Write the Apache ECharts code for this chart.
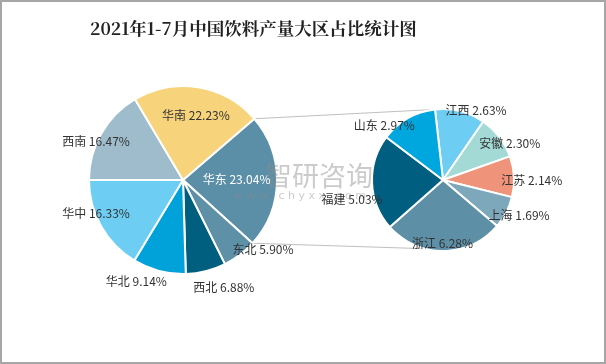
<!DOCTYPE html>
<html><head><meta charset="utf-8">
<script src="https://cdn.jsdelivr.net/npm/echarts@6/dist/echarts.min.js"></script>
<style>html,body{margin:0;padding:0;background:#fff}#c{width:606px;height:364px}</style>
</head><body><div id="c"></div>
<script>
// ---- data ----
const titleText = '2021年1-7月中国饮料产量大区占比统计图';
const regionNames = ['华东', '东北', '西北', '华北', '华中', '西南', '华南'];
const regionShares = [23.04, 5.90, 6.88, 9.14, 16.33, 16.47, 22.23];
const provinceNames = ['江西', '安徽', '江苏', '上海', '浙江', '福建', '山东'];
const provinceShares = [2.63, 2.30, 2.14, 1.69, 6.28, 5.03, 2.97];

// ---- styles ----
const regionColors = ['#5B8FA7', '#5E90A8', '#005E7F', '#00A2DA', '#6DCDF2', '#9EBCCB', '#F7D37C'];
const provinceColors = ['#6DCDF2', '#A4DAD6', '#EF937B', '#7DA8BC', '#5D8FA7', '#005E80', '#00A6DE'];
const regionLabelColors = ['#fff', '#333', '#333', '#333', '#333', '#333', '#333'];
// [angle offset from slice middle (deg), distance as fraction of radius]
const regionLabelPlace = [[-1.7, 0.57], [-11.8, 1.13], [-6.8, 1.22], [9.9, 1.19], [8.5, 0.99], [-6, 1.01], [2, 0.70]];
const provinceLabelPlace = [[11.5, 1.08], [9, 1.07], [3.3, 1.25], [-2.5, 1.18], [1, 0.9], [-10, 1.31], [-17.3, 1.13]];

const leftCenter = [183, 180], leftR = 94;
const rightCenter = [443, 180], rightR = 71;

const sum = a => a.reduce((s, v) => s + v, 0);
// left pie: boundary between 华中 and 西南 lies at the left (180°)
const leftStart = 180 + sum(regionShares.slice(0, 5)) / sum(regionShares) * 360 - 360;
const rightStart = 96.5;

function midAngles(values) {
  const t = sum(values); let acc = 0;
  return values.map(v => { const m = acc + v / 2; acc += v; return m / t * 360; });
}
function makeLayout(center, r, start, values, place) {
  const mids = midAngles(values);
  return function (p) {
    const i = p.dataIndex;
    const a = ((90 - start) + mids[i] + place[i][0]) * Math.PI / 180;
    const f = place[i][1];
    return { x: center[0] + f * r * Math.sin(a), y: center[1] - f * r * Math.cos(a), align: 'center', verticalAlign: 'middle' };
  };
}
function pt(center, r, compassDeg) {
  const a = compassDeg * Math.PI / 180;
  return [center[0] + r * Math.sin(a), center[1] - r * Math.cos(a)];
}

const fmt = p => p.name + ' ' + Number(p.value).toFixed(2) + '%';
const labelFont = '"Microsoft YaHei","Noto Sans CJK SC",sans-serif';

const e0 = 90 - leftStart;
const e1 = e0 + regionShares[0] / sum(regionShares) * 360;
const pA = pt(leftCenter, leftR, e0), pB = pt(leftCenter, leftR, e1);
const qA = pt(rightCenter, rightR, 360 - (rightStart - 90)), qB = pt(rightCenter, rightR, 194.6);

const chart = echarts.init(document.getElementById('c'));
chart.setOption({
  backgroundColor: '#fff',
  animation: false,
  title: {
    text: titleText, left: 85, top: 15,
    textStyle: { fontSize: 17.5, fontWeight: 'bold', color: '#222', fontFamily: '"Noto Serif CJK SC","Liberation Serif","Noto Sans CJK SC",serif' }
  },
  graphic: [
    { type: 'rect', z: 0, shape: { x: 1, y: 1, width: 604, height: 362 }, style: { fill: 'none', stroke: '#A6A6A6', lineWidth: 2 } },
    { type: 'line', z: 1, shape: { x1: pA[0], y1: pA[1], x2: qA[0], y2: qA[1] }, style: { stroke: '#BFBFBF', lineWidth: 1 } },
    { type: 'line', z: 1, shape: { x1: pB[0], y1: pB[1], x2: qB[0], y2: qB[1] }, style: { stroke: '#BFBFBF', lineWidth: 1 } },
    { type: 'text', z: 100, x: 265, y: 162, style: { text: '智研咨询', fontSize: 27, fill: 'rgba(140,140,140,0.45)', fontFamily: labelFont } },
    { type: 'text', z: 100, x: 234, y: 191, style: { text: 'w w w . c h y x x . c o m', fontSize: 11, fill: 'rgba(140,140,140,0.45)', fontFamily: 'DejaVu Sans' } }
  ],
  series: [
    {
      type: 'pie', center: leftCenter, radius: leftR, startAngle: leftStart, clockwise: true,
      avoidLabelOverlap: false,
      itemStyle: { borderColor: '#fff', borderWidth: 2 },
      label: { show: true, position: 'inside', formatter: fmt, fontSize: 12, fontFamily: labelFont },
      labelLine: { show: false },
      labelLayout: makeLayout(leftCenter, leftR, leftStart, regionShares, regionLabelPlace),
      data: regionNames.map((n, i) => ({ name: n, value: regionShares[i], itemStyle: { color: regionColors[i] }, label: { color: regionLabelColors[i] } }))
    },
    {
      type: 'pie', center: rightCenter, radius: rightR, startAngle: rightStart, clockwise: true,
      avoidLabelOverlap: false,
      itemStyle: { borderColor: '#fff', borderWidth: 2 },
      label: { show: true, position: 'inside', formatter: fmt, fontSize: 12, color: '#333', fontFamily: labelFont },
      labelLine: { show: false },
      labelLayout: makeLayout(rightCenter, rightR, rightStart, provinceShares, provinceLabelPlace),
      data: provinceNames.map((n, i) => ({ name: n, value: provinceShares[i], itemStyle: { color: provinceColors[i] } }))
    }
  ]
});
</script></body></html>
